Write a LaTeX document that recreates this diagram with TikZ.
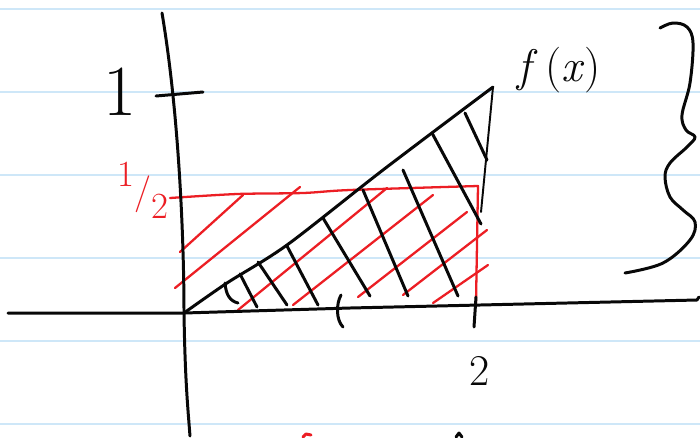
\documentclass[tikz,border=0pt]{standalone}
\usepackage{fontspec}
\usepackage{tikz}
\usetikzlibrary{calc}
\definecolor{ruleblue}{RGB}{206,231,248}
\definecolor{penred}{RGB}{236,30,36}
\definecolor{penblack}{RGB}{8,8,8}

\begin{document}
\begin{tikzpicture}[
  x=0.02cm, y=-0.02cm,
  rule/.style={ruleblue, line width=0.8pt},
  pen/.style={penblack, line width=1.7pt, line cap=round, line join=round},
  thinpen/.style={pen, line width=1.1pt},
  redpen/.style={penred, line width=1.3pt, line cap=round, line join=round},
  hand/.style={font={\fontsize{#1}{#1}\selectfont}, inner sep=0pt}
]
\useasboundingbox[fill=white] (0,0) rectangle (700,437);

% ruled paper
\foreach \y in {9,92,175,258,341,424}
  \draw[rule] (0,\y) -- (700,\y);

% red rectangle and its hatching
\draw[redpen] plot[smooth] coordinates {(170,198) (237,194) (303,193) (350,190) (478,186)}
  -- (476,303);
\foreach \xa/\ya/\xb/\yb in {180/252/243/195, 175/288/300/187, 238/310/387/188,
    293/305/433/195, 358/297/467/212, 403/295/487/230, 433/303/488/265}
  \draw[redpen] (\xa,\ya) -- (\xb,\yb);

% axes
\coordinate (O) at (184,313);
\draw[pen] (8,313) -- (O) -- (350,308) -- (697,300) -- (699,297);
\draw[pen] (162,13) .. controls (180,120) and (184,250) .. (O)
  .. controls (185,380) and (188,410) .. (190,436);

% ticks
\draw[pen] (156,96) -- (203,92);
\draw[pen] (341,295) .. controls (336,304) and (336,320) .. (343,327);
\draw[pen] (476,297) -- (474,327);

% f(x) and its hatching
\coordinate (ftop) at (493,87);
\draw[pen] plot[smooth] coordinates {(O) (227,283) (287,245) (383,170) (ftop)};
\draw[thinpen] (ftop) -- (481,212);
\draw[pen] (225,283) .. controls (226,295) and (230,301) .. (238,303);
\foreach \xa/\ya/\xb/\yb in {240/274/257/307, 258/262/287/305, 287/246/318/305,
    323/218/370/296, 363/190/408/296, 403/170/458/296, 432/133/481/224, 465/113/487/160}
  \draw[pen] (\xa,\ya) -- (\xb,\yb);

% brace
\draw[pen] plot[smooth, tension=0.6] coordinates {(660,28) (673,23) (687,27) (693,43)
  (690,83) (682,115) (686,130) (695,137) (687,147) (670,163) (665,177) (670,197)
  (683,210) (695,222) (690,240) (663,263) (625,273)};

% strokes cut by the lower edge
\draw[redpen, line width=1.7pt] (303,437) -- (306,434) -- (311,435);
\draw[pen] (456,437) -- (459,433) -- (462,437);

% labels
\node[hand=41, penblack] (labone) at (120,92) {1};
\node[hand=21, penred] (labhalf) at (143,190)
  {\raisebox{1.1ex}{1}/\raisebox{-0.9ex}{2}};
\node[hand=25, penblack] (labtwo) at (480,371) {2};
\node[hand=26, penblack] (labf) at (559,70) {\textit{f}\,(\textit{x})};
\end{tikzpicture}
\end{document}
